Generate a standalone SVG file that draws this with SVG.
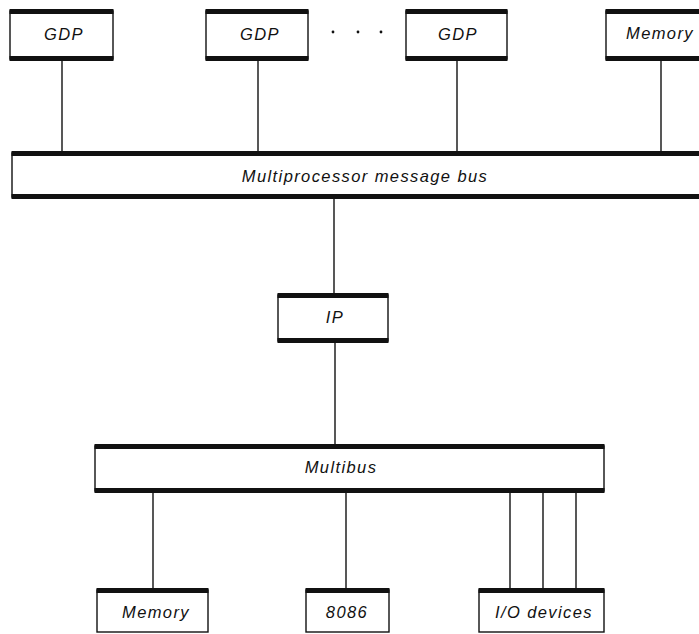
<svg xmlns="http://www.w3.org/2000/svg" width="699" height="634" viewBox="0 0 699 634">
  <style>
    .box { fill: #fff; stroke: #111; stroke-width: 1.4; }
    .bar { fill: #111; }
    .wire { stroke: #111; stroke-width: 1.4; fill: none; }
    .lbl { font-family: "Liberation Sans", Arial, sans-serif; font-style: italic; font-size: 16.5px; letter-spacing: 1.4px; fill: #111; text-anchor: middle; }
  </style>

  <!-- connectors -->
  <g id="connectors">
    <line class="wire" x1="62" y1="61" x2="62" y2="152"/>
    <line class="wire" x1="258" y1="61" x2="258" y2="152"/>
    <line class="wire" x1="457" y1="61" x2="457" y2="152"/>
    <line class="wire" x1="661" y1="61" x2="661" y2="152"/>
    <line class="wire" x1="334" y1="198" x2="334" y2="294"/>
    <line class="wire" x1="335" y1="342" x2="335" y2="445"/>
    <line class="wire" x1="153" y1="492" x2="153" y2="589"/>
    <line class="wire" x1="346" y1="492" x2="346" y2="589"/>
    <line class="wire" x1="510" y1="492" x2="510" y2="589"/>
    <line class="wire" x1="543" y1="492" x2="543" y2="589"/>
    <line class="wire" x1="576" y1="492" x2="576" y2="589"/>
  </g>

  <!-- processors and memory on the message bus -->
  <g id="gdp1">
    <rect class="box" x="10" y="11" width="103" height="48"/>
    <rect class="bar" x="9.5" y="9" width="104" height="5"/>
    <rect class="bar" x="9.5" y="56" width="104" height="5"/>
    <text class="lbl" x="64" y="40">GDP</text>
  </g>
  <g id="gdp2">
    <rect class="box" x="206" y="11" width="102" height="48"/>
    <rect class="bar" x="205.5" y="9" width="103" height="5"/>
    <rect class="bar" x="205.5" y="56" width="103" height="5"/>
    <text class="lbl" x="260" y="40">GDP</text>
  </g>
  <g id="ellipsis">
    <circle cx="333" cy="32" r="1.4" fill="#111"/>
    <circle cx="358" cy="32" r="1.4" fill="#111"/>
    <circle cx="381" cy="32" r="1.4" fill="#111"/>
  </g>
  <g id="gdp3">
    <rect class="box" x="406" y="11" width="101" height="48"/>
    <rect class="bar" x="405.5" y="9" width="102" height="5"/>
    <rect class="bar" x="405.5" y="56" width="102" height="5"/>
    <text class="lbl" x="458" y="40">GDP</text>
  </g>
  <g id="memory-top">
    <rect class="box" x="606" y="11" width="100" height="48"/>
    <rect class="bar" x="605.5" y="9" width="100" height="5"/>
    <rect class="bar" x="605.5" y="56" width="100" height="5"/>
    <text class="lbl" x="660" y="39">Memory</text>
  </g>

  <!-- multiprocessor message bus -->
  <g id="message-bus">
    <rect class="box" x="12" y="153" width="700" height="44"/>
    <rect class="bar" x="11.5" y="151" width="690" height="5"/>
    <rect class="bar" x="11.5" y="194" width="690" height="5"/>
    <text class="lbl" x="365" y="182">Multiprocessor message bus</text>
  </g>

  <!-- interface processor -->
  <g id="ip">
    <rect class="box" x="278" y="295" width="110" height="46"/>
    <rect class="bar" x="277.5" y="293" width="111" height="5"/>
    <rect class="bar" x="277.5" y="338" width="111" height="5"/>
    <text class="lbl" x="335" y="323">IP</text>
  </g>

  <!-- Multibus -->
  <g id="multibus">
    <rect class="box" x="95" y="446" width="509" height="45"/>
    <rect class="bar" x="94.5" y="444" width="510" height="5"/>
    <rect class="bar" x="94.5" y="488" width="510" height="5"/>
    <text class="lbl" x="341" y="473">Multibus</text>
  </g>

  <!-- devices on the Multibus -->
  <g id="memory-bottom">
    <rect class="box" x="97" y="590" width="111" height="42"/>
    <rect class="bar" x="96.5" y="588" width="112" height="5"/>
    <text class="lbl" x="156" y="618">Memory</text>
  </g>
  <g id="cpu-8086">
    <rect class="box" x="306" y="590" width="83" height="42"/>
    <rect class="bar" x="305.5" y="588" width="84" height="5"/>
    <text class="lbl" x="347" y="618">8086</text>
  </g>
  <g id="io-devices">
    <rect class="box" x="479" y="590" width="125" height="42"/>
    <rect class="bar" x="478.5" y="588" width="126" height="5"/>
    <text class="lbl" x="544" y="618">I/O devices</text>
  </g>
</svg>
